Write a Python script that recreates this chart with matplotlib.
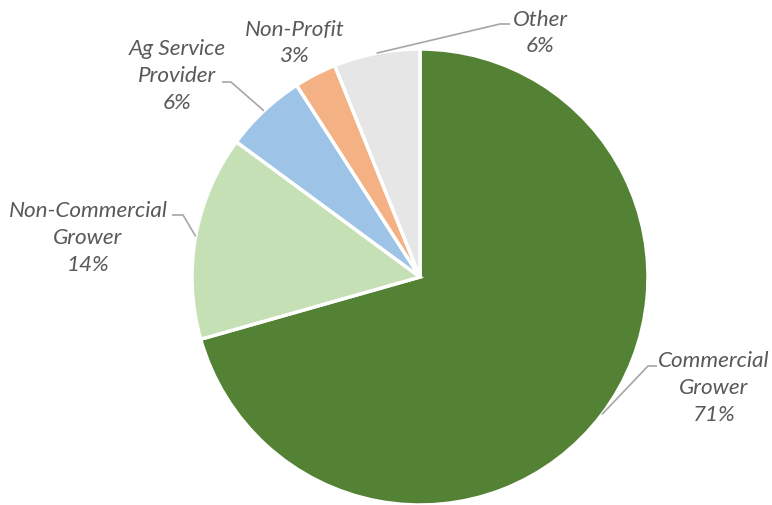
import numpy as np
import matplotlib
matplotlib.use("Agg")
import matplotlib.pyplot as plt

# data
categories = ["Commercial\nGrower", "Non-Commercial\nGrower", "Ag Service\nProvider", "Non-Profit", "Other"]
shares = [70.6, 14.5, 5.8, 3.0, 6.1]
colors = ["#548235", "#C5E0B4", "#9DC3E6", "#F4B183", "#E7E6E6"]

# layout (pixel space, y measured from the bottom)
W, H = 772, 506
center = (420, 228)
radius = 228
# label text center, elbow point, end of horizontal stub (None = no leader line)
label_pos = [(714, 118), (88, 268), (177, 430), (295, 463), (540, 473)]
elbows = [(648, 139), (183, 290), (231, 423), None, (500, 481)]
stubs = [(657, 139), (172, 290), (222, 423), None, (510, 481)]

text_color = "#595959"
line_color = "#A6A6A6"

fig = plt.figure(figsize=(W / 100, H / 100), dpi=100)
ax = fig.add_axes([0, 0, 1, 1])

wedges, _ = ax.pie(shares, colors=colors, startangle=90, counterclock=False,
                   center=center, radius=radius, frame=True,
                   wedgeprops=dict(edgecolor="white", linewidth=2.5))
ax.set_xlim(0, W)
ax.set_ylim(0, H)
ax.set_aspect("equal")
ax.axis("off")

for i, w in enumerate(wedges):
    pct = round(shares[i])
    lx, ly = label_pos[i]
    ax.text(lx, ly, f"{categories[i]}\n{pct}%", ha="center", va="center",
            fontsize=16.2, style="italic", color=text_color,
            family=["Lato", "DejaVu Sans"], linespacing=1.42)
    if elbows[i] is None:
        continue
    mid = np.deg2rad((w.theta1 + w.theta2) / 2)
    ex = center[0] + radius * np.cos(mid)
    ey = center[1] + radius * np.sin(mid)
    xs = [ex, elbows[i][0], stubs[i][0]]
    ys = [ey, elbows[i][1], stubs[i][1]]
    ax.plot(xs, ys, color=line_color, lw=1.2, solid_capstyle="butt")

fig.savefig("out.png", dpi=100)
